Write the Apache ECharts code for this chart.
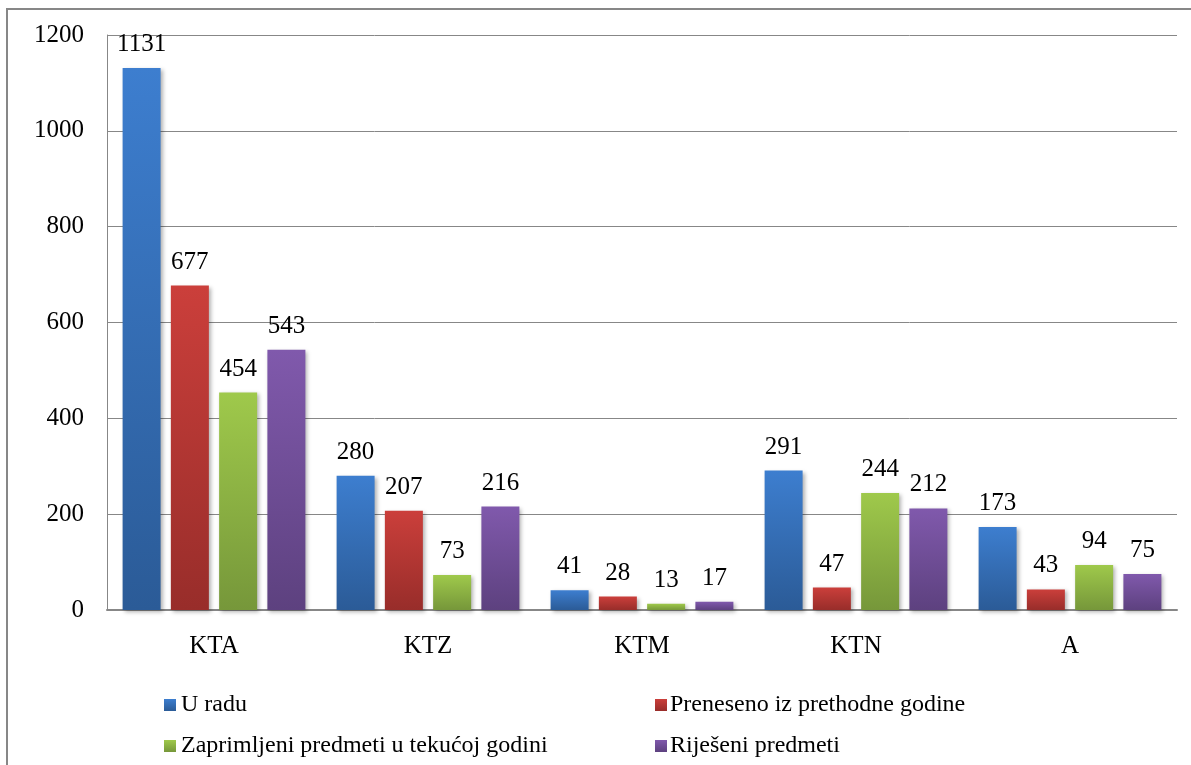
<!DOCTYPE html>
<html>
<head>
<meta charset="utf-8">
<script src="https://cdn.jsdelivr.net/npm/echarts@6/dist/echarts.min.js"></script>
<style>
html,body{margin:0;padding:0;background:#fff;overflow:hidden;}
#c{width:1191px;height:765px;position:absolute;left:0;top:0;}
#frame{position:absolute;left:6px;top:8px;width:1300px;height:900px;border:2px solid #878787;pointer-events:none;}
</style>
</head>
<body>
<div id="c"></div>
<div id="frame"></div>
<script>
const categories = ['KTA', 'KTZ', 'KTM', 'KTN', 'A'];
const seriesNames = ['U radu', 'Preneseno iz prethodne godine', 'Zaprimljeni predmeti u tekućoj godini', 'Riješeni predmeti'];
const uRadu = [1131, 280, 41, 291, 173];
const preneseno = [677, 207, 28, 47, 43];
const zaprimljeni = [454, 73, 13, 244, 94];
const rijeseni = [543, 216, 17, 212, 75];
const yTicks = { min: 0, max: 1200, interval: 200 };

const colors = [
  ['#3D7ECF', '#2B5B97'],
  ['#CB3F3B', '#982D2A'],
  ['#9FC94B', '#76973A'],
  ['#8059AC', '#5D417F']
];
const font = 'Liberation Serif';
const values = [uRadu, preneseno, zaprimljeni, rijeseni];

const chart = echarts.init(document.getElementById('c'), null, {renderer: 'canvas'});
const series = seriesNames.map((name, i) => ({
  name: name,
  type: 'bar',
  data: values[i],
  barWidth: 38,
  barGap: '27%',
  itemStyle: {
    color: new echarts.graphic.LinearGradient(0, 0, 0, 1, [
      {offset: 0, color: colors[i][0]},
      {offset: 1, color: colors[i][1]}
    ]),
    shadowColor: 'rgba(0,0,0,0.3)',
    shadowBlur: 4,
    shadowOffsetX: 2,
    shadowOffsetY: 2
  },
  label: {
    show: true,
    position: 'top',
    distance: 11,
    color: '#000',
    fontFamily: font,
    fontSize: 25
  }
}));

const legendText = {color: '#000', fontFamily: font, fontSize: 24, padding: [0,0,0,0]};

chart.setOption({
  backgroundColor: '#fff',
  animation: false,
  textStyle: {fontFamily: font},
  grid: {left: 107, top: 35, right: 14, bottom: 155, containLabel: false},
  xAxis: {
    type: 'category',
    data: categories,
    axisLine: {show: true, lineStyle: {color: '#878787', width: 2}},
    axisTick: {show: false},
    axisLabel: {color: '#000', fontFamily: font, fontSize: 25, margin: 24}
  },
  yAxis: {
    type: 'value',
    min: yTicks.min, max: yTicks.max, interval: yTicks.interval,
    axisLine: {show: true, lineStyle: {color: '#878787', width: 1}},
    axisTick: {show: false},
    splitLine: {show: true, lineStyle: {color: '#878787', width: 1}},
    axisLabel: {color: '#000', fontFamily: font, fontSize: 25, margin: 23, formatter: v => String(v)}
  },
  legend: [
    {
      data: [seriesNames[0], seriesNames[2]],
      orient: 'vertical',
      left: 164, top: 693, padding: 0, height: 70,
      itemWidth: 12, itemHeight: 12, itemGap: 17,
      icon: 'rect',
      textStyle: legendText
    },
    {
      data: [seriesNames[1], seriesNames[3]],
      orient: 'vertical',
      left: 655, top: 693, padding: 0, height: 70,
      itemWidth: 12, itemHeight: 12, itemGap: 17,
      icon: 'rect',
      textStyle: Object.assign({}, legendText, {padding: [0,0,0,-2]})
    }
  ],
  series: series
});
</script>
</body>
</html>
